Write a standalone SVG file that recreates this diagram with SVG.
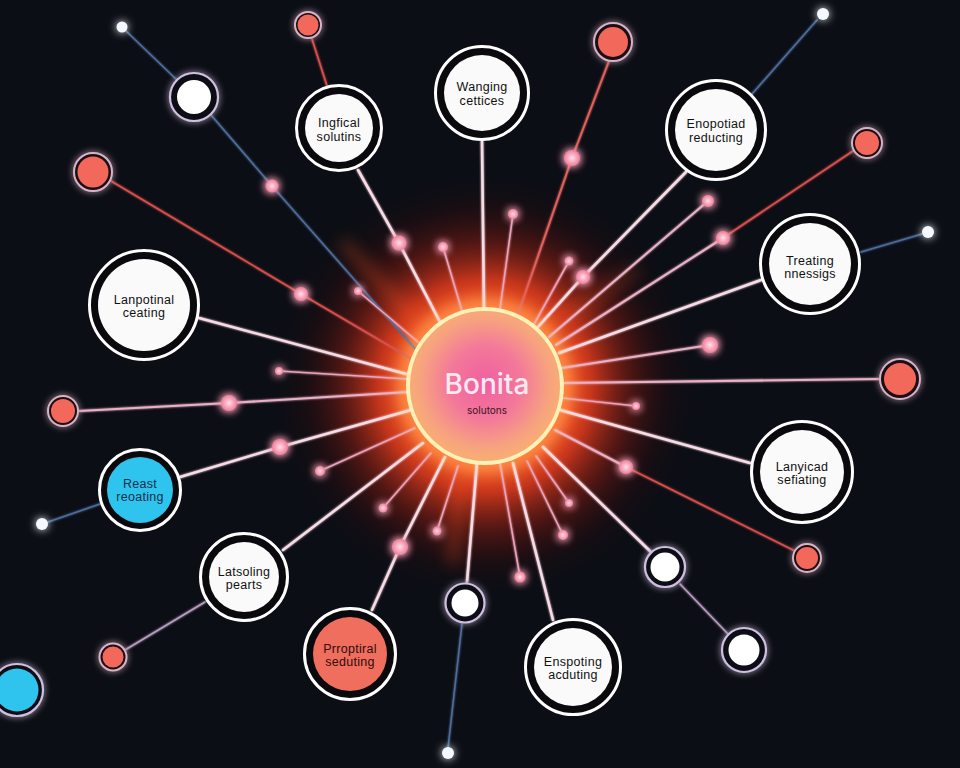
<svg xmlns="http://www.w3.org/2000/svg" width="960" height="768" viewBox="0 0 960 768">
<defs>
<style>
.w{stroke:#f7dbe5;stroke-width:2.6;fill:none;stroke-linecap:round}
.p{stroke:#eba3ba;stroke-width:1.6;fill:none;stroke-linecap:round}
.pk{stroke:#eab0c6;stroke-width:2.1;fill:none;stroke-linecap:round}
.r{stroke:#d9504c;stroke-width:1.7;fill:none;stroke-linecap:round}
.b{stroke:#4d6d9c;stroke-width:1.6;fill:none;stroke-linecap:round}
.l{stroke:#b89cc0;stroke-width:1.6;fill:none;stroke-linecap:round}
.ring{fill:#0a0a0e;stroke:#ffffff;stroke-width:3}
.in{fill:#fafafa}
.lbl{font-family:"Liberation Sans",Arial,sans-serif;font-size:12.5px;fill:#111111;text-anchor:middle;letter-spacing:0.3px}
.dot{fill:url(#pdot);filter:url(#glowP)}
.wdot{fill:#f4f8ff;filter:url(#glowB)}
.sr{fill:#1a1016;stroke:#d7b3c6;stroke-width:2;filter:url(#glow)}
.sf{fill:#f2685a}
.wr{fill:#0d0d14;stroke:#cfc0e0;stroke-width:2.2;filter:url(#glow)}
.wf{fill:#ffffff}
</style>
<radialGradient id="pdot">
<stop offset="0" stop-color="#ffe0ea"/>
<stop offset="0.6" stop-color="#f7a3b9"/>
<stop offset="1" stop-color="#ee7d99"/>
</radialGradient>
<radialGradient id="halo" cx="485" cy="386" r="215" gradientUnits="userSpaceOnUse">
<stop offset="0" stop-color="#ff7a30"/>
<stop offset="0.37" stop-color="#ff5f26"/>
<stop offset="0.5" stop-color="#d8391c" stop-opacity="0.9"/>
<stop offset="0.68" stop-color="#801c12" stop-opacity="0.55"/>
<stop offset="0.85" stop-color="#3a0c0c" stop-opacity="0.22"/>
<stop offset="1" stop-color="#0c0e15" stop-opacity="0"/>
</radialGradient>
<radialGradient id="core" cx="485" cy="383" r="80" gradientUnits="userSpaceOnUse">
<stop offset="0" stop-color="#f05fa0"/>
<stop offset="0.45" stop-color="#f3789a"/>
<stop offset="0.8" stop-color="#f7a27f"/>
<stop offset="1" stop-color="#f8b070"/>
</radialGradient>
<filter id="glow" x="-100%" y="-100%" width="300%" height="300%">
<feGaussianBlur in="SourceGraphic" stdDeviation="3" result="b"/>
<feMerge><feMergeNode in="b"/><feMergeNode in="SourceGraphic"/></feMerge>
</filter>
<filter id="glowP" x="-200%" y="-200%" width="500%" height="500%">
<feGaussianBlur in="SourceGraphic" stdDeviation="4.5" result="b"/>
<feMerge><feMergeNode in="b"/><feMergeNode in="b"/><feMergeNode in="SourceGraphic"/></feMerge>
</filter>
<filter id="glowB" x="-150%" y="-150%" width="400%" height="400%">
<feGaussianBlur in="SourceGraphic" stdDeviation="4" result="b"/>
<feMerge><feMergeNode in="b"/><feMergeNode in="SourceGraphic"/></feMerge>
</filter>
<filter id="soft" x="-50%" y="-50%" width="200%" height="200%">
<feGaussianBlur stdDeviation="8"/>
</filter>
<filter id="lineglow" x="-10%" y="-10%" width="120%" height="120%">
<feGaussianBlur in="SourceGraphic" stdDeviation="1.2" result="b"/>
<feMerge><feMergeNode in="b"/><feMergeNode in="SourceGraphic"/></feMerge>
</filter>
</defs>

<rect width="960" height="768" fill="#0c0e15"/>

<!-- hub glow -->
<g id="hub-glow">
<circle cx="485" cy="386" r="215" fill="url(#halo)"/>
<g filter="url(#soft)" stroke="#ff5a22" stroke-linecap="round" opacity="0.35">
<line x1="345" y1="245" x2="430" y2="335" stroke-width="10"/>
<line x1="460" y1="470" x2="453" y2="560" stroke-width="10"/>
<line x1="565" y1="318" x2="635" y2="270" stroke-width="8"/>
</g>
</g>

<g id="connectors" filter="url(#lineglow)">
<path class="w" d="M358 170L399 243L440 322"/>
<path class="r" d="M312 39L327 86"/>
<path class="b" d="M126 31L177 80"/>
<path class="b" d="M211 115L272 186L425 360"/>
<path class="r" d="M111 181L301 294L410 358"/>
<path class="p" d="M358 291L418 342"/>
<path class="w" d="M199 318L410 375"/>
<path class="pk" d="M79 411L229 403L408 392"/>
<path class="p" d="M279 371L408 379"/>
<path class="w" d="M180 477L280 447L411 410"/>
<path class="b" d="M48 522L100 504"/>
<path class="p" d="M320 471L415 428"/>
<path class="w" d="M283 550L423 443"/>
<path class="l" d="M205 602L125 650"/>
<path class="p" d="M383 508L431 453"/>
<path class="w" d="M372 610L400 547L445 457"/>
<path class="p" d="M437 531L458 466"/>
<path class="w" d="M467 582L477 463"/>
<path class="b" d="M462 624L448 748"/>
<path class="p" d="M520 577L500 463"/>
<path class="w" d="M553 620L513 463"/>
<path class="p" d="M563 535L527 461"/>
<path class="p" d="M569 503L536 456"/>
<path class="w" d="M651 552L543 447"/>
<path class="l" d="M680 584L728 634"/>
<path class="r" d="M797 552L626 467"/>
<path class="pk" d="M626 467L555 430"/>
<path class="w" d="M750 463L560 410"/>
<path class="p" d="M636 406L562 398"/>
<path class="pk" d="M879 379L563 383"/>
<path class="pk" d="M710 345L562 368"/>
<path class="w" d="M761 280L559 353"/>
<path class="b" d="M861 252L922 234"/>
<path class="r" d="M853 151L723 238"/>
<path class="pk" d="M723 238L556 345"/>
<path class="pk" d="M708 201L549 337"/>
<path class="w" d="M686 172L583 277L537 328"/>
<path class="b" d="M752 94L817 20"/>
<path class="p" d="M569 261L533 326"/>
<path class="p" d="M513 214L500 309"/>
<path class="p" d="M443 247L462 311"/>
<path class="w" d="M482 141L484 309"/>
<path class="r" d="M609 61L572 158L518 314" style="stroke:#e0605a;stroke-width:2"/>
</g>

<!-- hub -->
<g id="hub">
<circle cx="485" cy="386" r="80" fill="none" stroke="#ffd27a" stroke-width="9" opacity="0.7" filter="url(#soft)"/>
<circle cx="485" cy="386" r="77" fill="url(#core)" stroke="#fff1b8" stroke-width="4"/>
<text x="487" y="394" font-family="Inter,'Liberation Sans',Arial,sans-serif" font-size="28" font-weight="500" fill="#fde9f1" text-anchor="middle">Bonita</text>
<text x="487" y="414" font-family="Inter,'Liberation Sans',Arial,sans-serif" font-size="10" fill="#3a1626" text-anchor="middle">solutons</text>
</g>

<!-- labelled nodes -->
<g id="n-ingfical"><circle class="ring" cx="339" cy="128" r="42.5"/><circle class="in" cx="339" cy="128" r="34"/><text class="lbl" x="339" y="127">Ingfical</text><text class="lbl" x="339" y="141">solutins</text></g>
<g id="n-wanging"><circle class="ring" cx="482" cy="93" r="46.5"/><circle class="in" cx="482" cy="93" r="38"/><text class="lbl" x="482" y="91">Wanging</text><text class="lbl" x="482" y="105">cettices</text></g>
<g id="n-enopotiad"><circle class="ring" cx="716" cy="130" r="49.5"/><circle class="in" cx="716" cy="130" r="41"/><text class="lbl" x="716" y="128">Enopotiad</text><text class="lbl" x="716" y="142">reducting</text></g>
<g id="n-treating"><circle class="ring" cx="810" cy="264" r="49.5"/><circle class="in" cx="810" cy="264" r="41"/><text class="lbl" x="810" y="265">Treating</text><text class="lbl" x="810" y="278">nnessigs</text></g>
<g id="n-lanpotinal"><circle class="ring" cx="144" cy="305" r="54.5"/><circle class="in" cx="144" cy="305" r="46"/><text class="lbl" x="144" y="304">Lanpotinal</text><text class="lbl" x="144" y="317">ceating</text></g>
<g id="n-reast"><circle class="ring" cx="140" cy="490" r="40.5"/><circle cx="140" cy="490" r="33" fill="#2fc4ee"/><text class="lbl" x="140" y="488" style="fill:#13304a">Reast</text><text class="lbl" x="140" y="501" style="fill:#13304a">reoating</text></g>
<g id="n-latsoling"><circle class="ring" cx="244" cy="577" r="43.5"/><circle class="in" cx="244" cy="577" r="35"/><text class="lbl" x="244" y="576">Latsoling</text><text class="lbl" x="244" y="589">pearts</text></g>
<g id="n-proptiral"><circle class="ring" cx="350" cy="654" r="45.5"/><circle cx="350" cy="654" r="37" fill="#f06e5e"/><text class="lbl" x="350" y="653" style="fill:#2e0c0c">Prroptiral</text><text class="lbl" x="350" y="666" style="fill:#2e0c0c">seduting</text></g>
<g id="n-enspoting"><circle class="ring" cx="573" cy="667" r="47.5"/><circle class="in" cx="573" cy="667" r="39"/><text class="lbl" x="573" y="666">Enspoting</text><text class="lbl" x="573" y="679">acduting</text></g>
<g id="n-lanyicad"><circle class="ring" cx="802" cy="472" r="50.5"/><circle class="in" cx="802" cy="472" r="42"/><text class="lbl" x="802" y="471">Lanyicad</text><text class="lbl" x="802" y="484">sefiating</text></g>

<!-- white ring dots -->
<g id="w-ring-1"><circle class="wr" cx="194" cy="97" r="24"/><circle class="wf" cx="194" cy="97" r="17"/></g>
<g id="w-ring-2"><circle class="wr" cx="665" cy="567" r="20"/><circle class="wf" cx="665" cy="567" r="14.5"/></g>
<g id="w-ring-3"><circle class="wr" cx="744" cy="650" r="22"/><circle class="wf" cx="744" cy="650" r="15.5"/></g>
<g id="w-ring-4"><circle class="wr" cx="465" cy="603" r="19.5"/><circle class="wf" cx="465" cy="603" r="13.5"/></g>
<g id="c-ring"><circle class="wr" cx="17" cy="690" r="26"/><circle cx="17" cy="690" r="21.5" fill="#2fc4ee"/></g>

<!-- salmon dots -->
<g id="s-1"><circle class="sr" cx="308" cy="25" r="13"/><circle class="sf" cx="308" cy="25" r="10.5"/></g>
<g id="s-2"><circle class="sr" cx="93" cy="172" r="19"/><circle class="sf" cx="93" cy="172" r="15.5"/></g>
<g id="s-3"><circle class="sr" cx="613" cy="42" r="19"/><circle class="sf" cx="613" cy="42" r="15"/></g>
<g id="s-4"><circle class="sr" cx="867" cy="143" r="15"/><circle class="sf" cx="867" cy="143" r="12"/></g>
<g id="s-5"><circle class="sr" cx="900" cy="379" r="20"/><circle class="sf" cx="900" cy="379" r="16"/></g>
<g id="s-6"><circle class="sr" cx="63" cy="411" r="15"/><circle class="sf" cx="63" cy="411" r="12"/></g>
<g id="s-7"><circle class="sr" cx="807" cy="558" r="14"/><circle class="sf" cx="807" cy="558" r="11"/></g>
<g id="s-8"><circle class="sr" cx="113" cy="657" r="13.5"/><circle class="sf" cx="113" cy="657" r="10.5"/></g>

<!-- white glow dots -->
<g id="wd-1"><circle class="wdot" cx="122" cy="27" r="5.5"/></g>
<g id="wd-2"><circle class="wdot" cx="823" cy="14" r="6"/></g>
<g id="wd-3"><circle class="wdot" cx="928" cy="232" r="6"/></g>
<g id="wd-4"><circle class="wdot" cx="42" cy="524" r="6"/></g>
<g id="wd-5"><circle class="wdot" cx="448" cy="753" r="6"/></g>

<!-- pink glow dots -->
<g id="pink-dots">
<circle class="dot" cx="272" cy="186" r="6.5"/>
<circle class="dot" cx="301" cy="294" r="7"/>
<circle class="dot" cx="358" cy="291" r="4"/>
<circle class="dot" cx="399" cy="243" r="7.5"/>
<circle class="dot" cx="229" cy="403" r="8"/>
<circle class="dot" cx="279" cy="371" r="4"/>
<circle class="dot" cx="280" cy="447" r="8"/>
<circle class="dot" cx="320" cy="471" r="5"/>
<circle class="dot" cx="383" cy="508" r="4.5"/>
<circle class="dot" cx="400" cy="547" r="8"/>
<circle class="dot" cx="437" cy="531" r="4.5"/>
<circle class="dot" cx="520" cy="577" r="5.5"/>
<circle class="dot" cx="563" cy="535" r="5"/>
<circle class="dot" cx="569" cy="503" r="4"/>
<circle class="dot" cx="626" cy="467" r="7"/>
<circle class="dot" cx="636" cy="406" r="4"/>
<circle class="dot" cx="710" cy="345" r="8"/>
<circle class="dot" cx="723" cy="238" r="7"/>
<circle class="dot" cx="708" cy="201" r="6"/>
<circle class="dot" cx="583" cy="277" r="7"/>
<circle class="dot" cx="569" cy="261" r="4.5"/>
<circle class="dot" cx="513" cy="214" r="5"/>
<circle class="dot" cx="443" cy="247" r="5"/>
<circle class="dot" cx="572" cy="158" r="8"/>
</g>
</svg>
